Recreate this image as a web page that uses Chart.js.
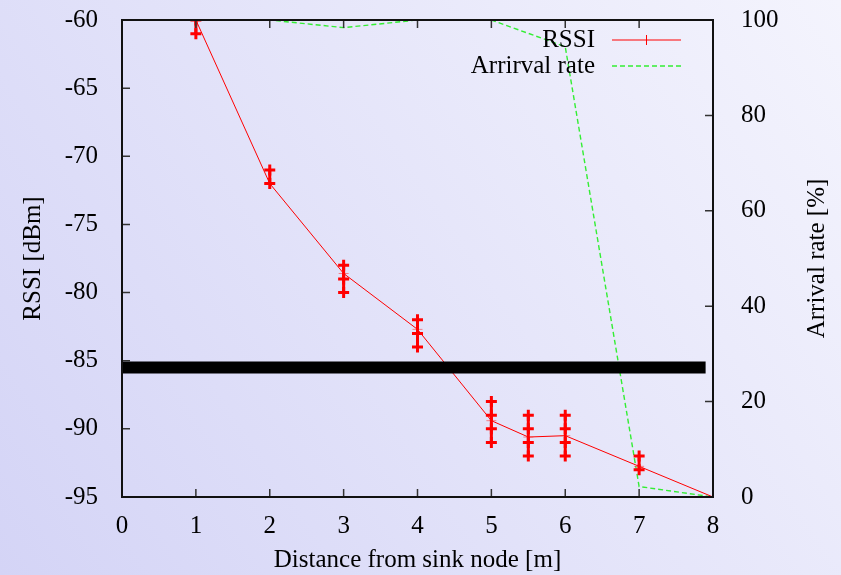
<!DOCTYPE html>
<html>
<head>
<meta charset="utf-8">
<script src="https://cdn.jsdelivr.net/npm/chart.js@4.4.1/dist/chart.umd.min.js"></script>
<style>
  html, body { margin: 0; padding: 0; background: #e4e4fa; }
  #wrap { width: 841px; height: 575px; position: relative; }
</style>
</head>
<body>
<div id="wrap"><canvas id="rssi-chart"></canvas></div>
<script>
// distances [m]
var meanX = [1, 2, 3, 4, 5, 5.5, 6, 7, 8];
// mean RSSI [dBm]
var meanRssi = [-60, -72, -78.6, -82.7, -89.4, -90.6, -90.5, -92.75, -95];
// raw RSSI samples per distance
var sampleX = [1, 2, 3, 4, 5, 5.5, 6, 7];
var sampleRssi = [
    [-60, -61],
    [-71, -72],
    [-78, -79, -80],
    [-82, -83, -84],
    [-88, -89, -90, -91],
    [-89, -90, -91, -92],
    [-89, -90, -91, -92],
    [-92, -93]
];
// arrival rate [%]
var rateX = [1, 2, 3, 4, 5, 6, 7, 8];
var arrivalRate = [100, 100, 98.4, 100, 100, 94.4, 2.2, 0];
// threshold bar
var thresholdX = [0, 7.9];
var thresholdRssi = -85.5;

var xTicks = [0, 1, 2, 3, 4, 5, 6, 7, 8];
var legendLabels = ['RSSI', 'Arrirval rate'];

var FONT = 'Liberation Serif, Times New Roman, serif';
Chart.defaults.font.family = FONT;
Chart.defaults.font.size = 25;
Chart.defaults.color = '#000';

function pts(xs, ys) {
    var out = [];
    for (var i = 0; i < xs.length; i++) out.push({x: xs[i], y: ys[i]});
    return out;
}

// samples, with a break between distances
var samplePts = [];
for (var i = 0; i < sampleX.length; i++) {
    for (var j = 0; j < sampleRssi[i].length; j++) {
        samplePts.push({x: sampleX[i], y: sampleRssi[i][j]});
    }
    samplePts.push({x: sampleX[i], y: null});
}

function noPad(s) {
    s.paddingTop = 0; s.paddingBottom = 0;
    s.paddingLeft = 0; s.paddingRight = 0;
}

var bgPlugin = {
    id: 'bg',
    beforeDraw: function(chart) {
        var c = chart.ctx;
        var g = c.createLinearGradient(0, chart.height, chart.width, 0);
        g.addColorStop(0, '#d4d4f6');
        g.addColorStop(1, '#f4f4fd');
        c.save();
        c.fillStyle = g;
        c.fillRect(0, 0, chart.width, chart.height);
        c.restore();
    }
};

var framePlugin = {
    id: 'frame',
    afterDraw: function(chart) {
        var c = chart.ctx, a = chart.chartArea;
        var sx = chart.scales.x, sy = chart.scales.y, sy2 = chart.scales.y2;
        var tl = 8;
        c.save();
        c.strokeStyle = '#333';
        c.lineWidth = 1.5;
        c.beginPath();
        sx.ticks.forEach(function(t) {
            var px = sx.getPixelForValue(t.value);
            c.moveTo(px, a.bottom); c.lineTo(px, a.bottom - tl);
            c.moveTo(px, a.top); c.lineTo(px, a.top + tl);
        });
        sy.ticks.forEach(function(t) {
            var py = sy.getPixelForValue(t.value);
            c.moveTo(a.left, py); c.lineTo(a.left + tl, py);
        });
        sy2.ticks.forEach(function(t) {
            var py = sy2.getPixelForValue(t.value);
            c.moveTo(a.right, py); c.lineTo(a.right - tl, py);
        });
        c.stroke();
        c.strokeStyle = '#111';
        c.lineWidth = 2;
        c.strokeRect(a.left, a.top, a.right - a.left, a.bottom - a.top);

        // right axis title, reading bottom to top
        c.fillStyle = '#000';
        c.font = '25px ' + FONT;
        c.textAlign = 'center';
        c.textBaseline = 'middle';
        c.translate(817, (a.top + a.bottom) / 2);
        c.rotate(-Math.PI / 2);
        c.fillText('Arrival rate [%]', 0, 0);
        c.restore();

        // legend
        c.save();
        c.font = '25px ' + FONT;
        c.fillStyle = '#000';
        c.textAlign = 'right';
        c.textBaseline = 'middle';
        var tx = 595, lx0 = 612, lx1 = 681;
        var rows = [40, 66];
        c.fillText(legendLabels[0], tx, rows[0]);
        c.fillText(legendLabels[1], tx, rows[1]);
        c.strokeStyle = '#ff0000';
        c.lineWidth = 1;
        c.beginPath();
        c.moveTo(lx0, rows[0]); c.lineTo(lx1, rows[0]);
        c.moveTo((lx0 + lx1) / 2, rows[0] - 5); c.lineTo((lx0 + lx1) / 2, rows[0] + 5);
        c.stroke();
        c.strokeStyle = '#33ee33';
        c.lineWidth = 1.4;
        c.setLineDash([5, 3]);
        c.beginPath();
        c.moveTo(lx0, rows[1]); c.lineTo(lx1, rows[1]);
        c.stroke();
        c.restore();
    }
};

new Chart(document.getElementById('rssi-chart'), {
    type: 'scatter',
    data: {
        datasets: [
            {
                label: 'threshold',
                data: pts(thresholdX, [thresholdRssi, thresholdRssi]),
                showLine: true,
                borderColor: '#000',
                borderWidth: 12,
                borderCapStyle: 'butt',
                pointRadius: 0,
                yAxisID: 'y',
                order: 0
            },
            {
                label: 'samples',
                data: samplePts,
                showLine: true,
                spanGaps: false,
                borderColor: '#ff0000',
                borderWidth: 3,
                pointStyle: 'cross',
                pointRadius: 5.5,
                pointBorderWidth: 3,
                pointBorderColor: '#ff0000',
                yAxisID: 'y',
                order: 1
            },
            {
                label: 'RSSI',
                data: pts(meanX, meanRssi),
                showLine: true,
                borderColor: '#ff0000',
                borderWidth: 1,
                pointStyle: 'cross',
                pointRadius: 5,
                pointBorderWidth: 1,
                pointBorderColor: 'rgba(255,60,60,0.6)',
                yAxisID: 'y',
                order: 2
            },
            {
                label: 'Arrival rate',
                data: pts(rateX, arrivalRate),
                showLine: true,
                borderColor: '#33ee33',
                borderWidth: 1.4,
                borderDash: [5, 3],
                pointRadius: 0,
                yAxisID: 'y2',
                order: 3
            }
        ]
    },
    options: {
        responsive: true,
        maintainAspectRatio: false,
        animation: false,
        layout: { padding: { top: 20, left: 0, right: 0, bottom: 0 } },
        plugins: {
            legend: { display: false },
            tooltip: { enabled: false }
        },
        scales: {
            x: {
                type: 'linear',
                position: 'bottom',
                min: 0, max: 8,
                afterBuildTicks: function(s) { s.ticks = xTicks.map(function(v) { return {value: v}; }); },
                ticks: { padding: 6, maxRotation: 0 },
                grid: { display: false },
                border: { display: false },
                title: { display: true, text: 'Distance from sink node [m]', font: { size: 25 }, padding: { top: 0, bottom: 0 } },
                afterFit: function(s) { s.height = 78; noPad(s); }
            },
            y: {
                position: 'left',
                min: -95, max: -60,
                ticks: { stepSize: 5, padding: 16 },
                grid: { display: false },
                border: { display: false },
                title: { display: true, text: 'RSSI [dBm]', font: { size: 25 }, padding: { top: 18, bottom: 0 } },
                afterFit: function(s) { s.width = 122; noPad(s); }
            },
            y2: {
                position: 'right',
                min: 0, max: 100,
                ticks: { stepSize: 20, padding: 20 },
                grid: { display: false },
                border: { display: false },
                afterFit: function(s) { s.width = 128; noPad(s); }
            }
        }
    },
    plugins: [bgPlugin, framePlugin]
});
</script>
</body>
</html>
